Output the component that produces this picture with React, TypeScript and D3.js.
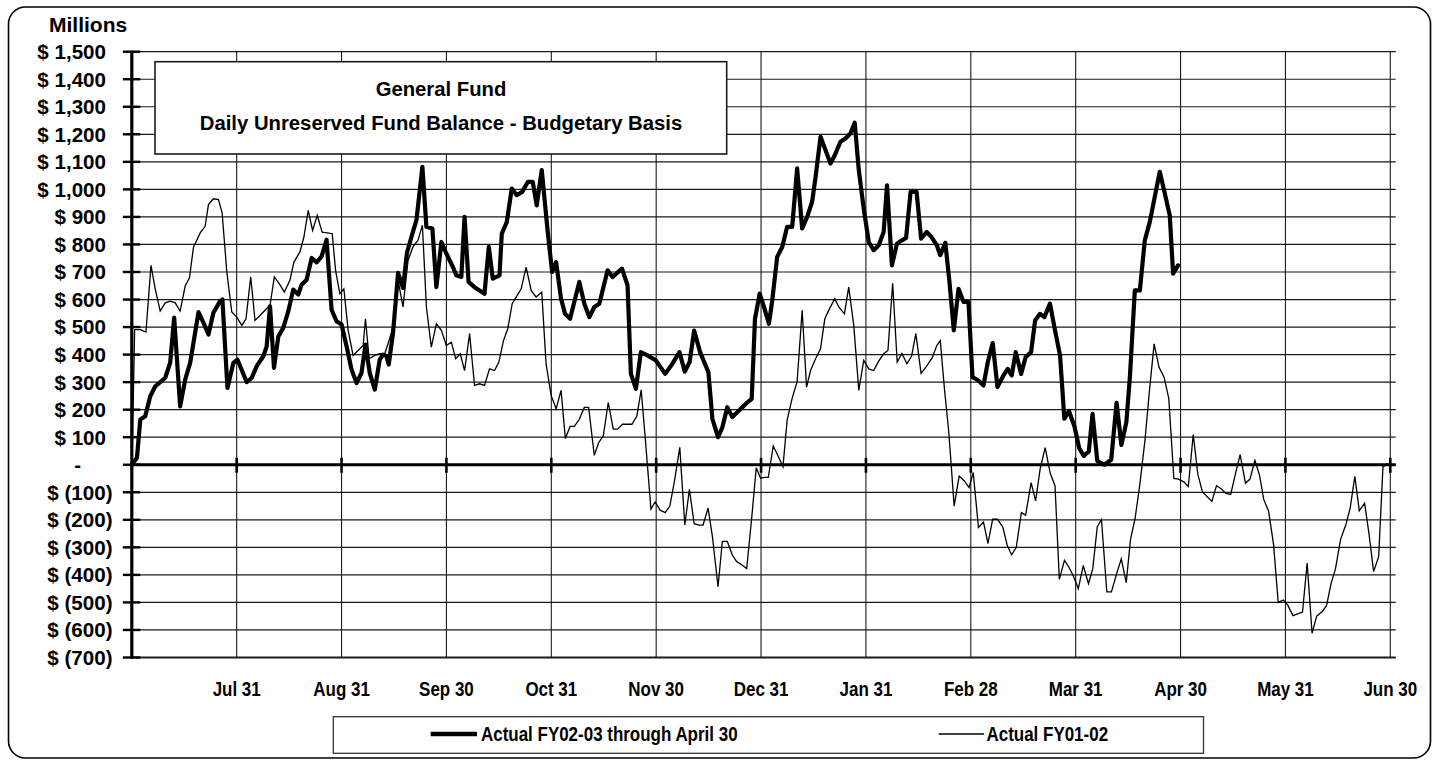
import React from 'react';
import * as d3 from 'd3';

const monthLabels = ['Jul 31', 'Aug 31', 'Sep 30', 'Oct 31', 'Nov 30', 'Dec 31', 'Jan 31', 'Feb 28', 'Mar 31', 'Apr 30', 'May 31', 'Jun 30'];
const yTickValues = [1500, 1400, 1300, 1200, 1100, 1000, 900, 800, 700, 600, 500, 400, 300, 200, 100, 0, -100, -200, -300, -400, -500, -600, -700];
const titleLines = ['General Fund', 'Daily Unreserved Fund Balance - Budgetary Basis'];
const legendLabels = ['Actual FY02-03 through April 30', 'Actual FY01-02'];

// [fiscal month position (0 = Jul 1, 1 = Jul 31, ... 12 = Jun 30), $ millions]
const fy0203: [number, number][] = [
  [0.00, 0], [0.049, 25], [0.081, 164], [0.128, 176], [0.176, 249], [0.224, 285], [0.271, 300], [0.319, 316], [0.366, 371], [0.404, 534],
  [0.461, 212], [0.509, 309], [0.557, 371], [0.636, 554], [0.683, 516], [0.731, 473], [0.778, 552], [0.842, 594], [0.864, 600], [0.912, 279],
  [0.969, 370], [1.007, 382], [1.096, 300], [1.144, 316], [1.191, 358], [1.254, 394], [1.286, 430], [1.318, 575], [1.356, 352], [1.397, 466],
  [1.444, 497], [1.492, 557], [1.539, 636], [1.587, 618], [1.619, 654], [1.667, 672], [1.715, 751], [1.762, 735], [1.810, 757], [1.857, 817],
  [1.905, 563], [1.952, 521], [2.000, 509], [2.048, 430], [2.095, 346], [2.143, 297], [2.190, 333], [2.228, 436], [2.269, 333], [2.317, 273],
  [2.364, 382], [2.396, 400], [2.428, 395], [2.450, 364], [2.491, 479], [2.539, 697], [2.586, 642], [2.624, 770], [2.666, 827], [2.714, 888],
  [2.771, 1082], [2.809, 864], [2.866, 858], [2.904, 645], [2.952, 809], [2.999, 767], [3.062, 718], [3.094, 688], [3.142, 682], [3.173, 900],
  [3.211, 664], [3.268, 645], [3.363, 621], [3.404, 791], [3.442, 676], [3.506, 688], [3.528, 839], [3.576, 882], [3.623, 1003], [3.671, 979],
  [3.722, 991], [3.776, 1027], [3.823, 1027], [3.861, 942], [3.909, 1070], [3.966, 845], [4.008, 700], [4.046, 736], [4.093, 603], [4.131, 548],
  [4.179, 530], [4.267, 664], [4.315, 585], [4.363, 536], [4.410, 573], [4.458, 585], [4.537, 706], [4.584, 682], [4.674, 712], [4.727, 652],
  [4.759, 330], [4.807, 276], [4.854, 409], [4.917, 397], [4.997, 379], [5.086, 330], [5.155, 367], [5.222, 409], [5.273, 338], [5.319, 373],
  [5.362, 487], [5.419, 409], [5.498, 336], [5.536, 167], [5.590, 100], [5.631, 136], [5.678, 209], [5.726, 173], [5.790, 197], [5.854, 221],
  [5.911, 239], [5.942, 530], [5.987, 621], [6.028, 573], [6.075, 512], [6.107, 597], [6.154, 755], [6.202, 791], [6.249, 864], [6.297, 864],
  [6.344, 1076], [6.392, 858], [6.440, 900], [6.487, 955], [6.520, 1045], [6.567, 1191], [6.615, 1142], [6.662, 1094], [6.703, 1124], [6.757, 1173],
  [6.805, 1185], [6.852, 1203], [6.893, 1242], [6.932, 1070], [6.979, 930], [7.027, 809], [7.074, 779], [7.122, 797], [7.169, 845], [7.201, 1015],
  [7.248, 724], [7.296, 803], [7.343, 815], [7.383, 824], [7.426, 991], [7.483, 991], [7.526, 821], [7.579, 845], [7.626, 827], [7.676, 797],
  [7.709, 761], [7.757, 806], [7.795, 670], [7.838, 488], [7.883, 639], [7.931, 591], [7.978, 591], [8.016, 318], [8.073, 306], [8.121, 288],
  [8.162, 373], [8.209, 442], [8.254, 282], [8.311, 324], [8.352, 348], [8.390, 324], [8.428, 409], [8.480, 330], [8.523, 391], [8.575, 409],
  [8.613, 524], [8.660, 548], [8.701, 536], [8.755, 585], [8.803, 488], [8.851, 397], [8.892, 167], [8.936, 195], [8.987, 141], [9.034, 60],
  [9.077, 32], [9.125, 48], [9.161, 185], [9.206, 14], [9.272, 0], [9.339, 18], [9.390, 225], [9.436, 72], [9.483, 154], [9.517, 318],
  [9.564, 633], [9.612, 633], [9.659, 815], [9.707, 882], [9.754, 973], [9.802, 1064], [9.850, 985], [9.897, 906], [9.929, 694], [9.976, 724],
];

const fy0102: [number, number][] = [
  [0.002, 0], [0.027, 491], [0.081, 491], [0.135, 482], [0.183, 724], [0.224, 637], [0.271, 558], [0.319, 588], [0.366, 594], [0.414, 588],
  [0.461, 558], [0.509, 649], [0.550, 679], [0.588, 790], [0.652, 842], [0.699, 866], [0.731, 945], [0.778, 966], [0.826, 963], [0.861, 916],
  [0.906, 700], [0.953, 555], [1.001, 536], [1.049, 506], [1.089, 530], [1.134, 682], [1.175, 524], [1.223, 542], [1.270, 561], [1.318, 579],
  [1.359, 682], [1.406, 658], [1.454, 627], [1.508, 670], [1.546, 736], [1.603, 773], [1.641, 827], [1.682, 924], [1.724, 851], [1.768, 906],
  [1.815, 845], [1.863, 842], [1.911, 839], [1.943, 706], [1.984, 621], [2.022, 639], [2.063, 488], [2.110, 397], [2.158, 415], [2.206, 433],
  [2.228, 530], [2.263, 385], [2.317, 397], [2.364, 403], [2.412, 403], [2.453, 451], [2.491, 500], [2.539, 670], [2.586, 573], [2.634, 742],
  [2.681, 791], [2.729, 815], [2.771, 870], [2.809, 573], [2.856, 427], [2.904, 512], [2.952, 488], [2.999, 433], [3.047, 445], [3.088, 385],
  [3.132, 403], [3.173, 342], [3.221, 476], [3.268, 288], [3.316, 294], [3.363, 288], [3.411, 348], [3.459, 342], [3.500, 373], [3.544, 451],
  [3.585, 494], [3.627, 585], [3.665, 609], [3.713, 639], [3.760, 718], [3.808, 633], [3.855, 609], [3.909, 627], [3.950, 367], [3.998, 252],
  [4.046, 203], [4.093, 270], [4.134, 95], [4.179, 139], [4.220, 139], [4.267, 165], [4.315, 208], [4.356, 208], [4.410, 34], [4.451, 80],
  [4.496, 105], [4.543, 226], [4.591, 129], [4.632, 129], [4.679, 147], [4.727, 147], [4.769, 147], [4.816, 177], [4.857, 272], [4.902, 68],
  [4.950, -161], [4.990, -135], [5.038, -165], [5.086, -174], [5.130, -150], [5.174, -60], [5.225, 63], [5.273, -219], [5.317, -89], [5.362, -214],
  [5.409, -219], [5.447, -219], [5.495, -157], [5.536, -260], [5.590, -443], [5.631, -278], [5.678, -278], [5.726, -328], [5.768, -352], [5.815, -363],
  [5.863, -377], [5.911, -193], [5.954, -11], [5.996, -49], [6.034, -46], [6.069, -46], [6.116, 68], [6.164, 31], [6.209, -7], [6.249, 163],
  [6.297, 242], [6.344, 302], [6.392, 561], [6.434, 282], [6.472, 342], [6.520, 385], [6.567, 421], [6.608, 530], [6.653, 567], [6.703, 603],
  [6.741, 573], [6.795, 548], [6.836, 645], [6.884, 506], [6.932, 270], [6.979, 379], [7.027, 348], [7.074, 342], [7.122, 376], [7.169, 403],
  [7.210, 415], [7.255, 659], [7.298, 373], [7.343, 404], [7.391, 367], [7.435, 394], [7.476, 476], [7.526, 332], [7.579, 358], [7.631, 388],
  [7.676, 433], [7.709, 451], [7.750, 270], [7.788, 127], [7.812, 5], [7.841, -150], [7.889, -41], [7.939, -59], [7.983, -83], [8.023, -28],
  [8.073, -228], [8.121, -208], [8.164, -286], [8.208, -198], [8.254, -198], [8.305, -226], [8.349, -295], [8.389, -327], [8.433, -301], [8.482, -174],
  [8.523, -183], [8.575, -65], [8.618, -131], [8.661, -16], [8.709, 62], [8.758, -32], [8.803, -76], [8.844, -416], [8.893, -347], [8.937, -373],
  [8.981, -407], [9.025, -450], [9.072, -366], [9.122, -432], [9.163, -377], [9.206, -225], [9.246, -199], [9.297, -462], [9.341, -462], [9.391, -395],
  [9.435, -342], [9.482, -428], [9.523, -271], [9.566, -196], [9.610, -77], [9.660, 86], [9.705, 275], [9.748, 439], [9.795, 354], [9.843, 318],
  [9.888, 240], [9.936, -50], [9.980, -52], [10.031, -62], [10.074, -79], [10.121, 110], [10.165, -35], [10.209, -99], [10.255, -116], [10.299, -133],
  [10.343, -76], [10.390, -88], [10.433, -104], [10.478, -108], [10.524, -32], [10.568, 37], [10.619, -67], [10.662, -52], [10.709, 16], [10.753, -38],
  [10.793, -126], [10.840, -169], [10.887, -290], [10.931, -500], [10.981, -491], [11.022, -510], [11.072, -548], [11.123, -541], [11.163, -535], [11.207, -357],
  [11.254, -612], [11.298, -550], [11.349, -534], [11.392, -512], [11.436, -430], [11.476, -380], [11.526, -271], [11.577, -217], [11.618, -156], [11.662, -42],
  [11.704, -167], [11.755, -140], [11.796, -248], [11.841, -388], [11.889, -334], [11.930, -8], [11.974, 5],
];

const FONT = '"Liberation Sans", Arial, Helvetica, sans-serif';

function fmtY(v: number): string {
  if (v === 0) return '-';
  const s = d3.format(',')(Math.abs(v));
  return v < 0 ? `$ (${s})` : `$ ${s}`;
}

export default function App() {
  const W = 1434;
  const H = 765;
  const x = d3.scaleLinear().domain([0, 12]).range([131.8, 1390.3]);
  const y = d3.scaleLinear().domain([-700, 1500]).range([657.5, 51.7]);
  const plotLeft = x(0);
  const plotRight = x(12.052);
  const yTop = y(1500);
  const yBot = y(-700);
  const y0 = y(0);

  const line = d3
    .line<[number, number]>()
    .x((d) => x(d[0]))
    .y((d) => y(d[1]));

  const months = d3.range(1, 13);

  return (
    <svg
      width={W}
      height={H}
      viewBox={`0 0 ${W} ${H}`}
      style={{ position: 'absolute', left: 0, top: 0, background: '#fff' }}
      fontFamily={FONT}
      fontWeight="bold"
    >
      <rect x={0} y={0} width={W} height={H} fill="#fff" />
      {/* outer rounded border */}
      <rect x={8.5} y={7} width={1422} height={751} rx={17} ry={17} fill="#fff" stroke="#000" strokeWidth={1.6} />

      {/* horizontal gridlines */}
      {yTickValues.map((v) => (
        <line key={`h${v}`} x1={plotLeft} x2={plotRight} y1={y(v)} y2={y(v)} stroke="#1a1a1a" strokeWidth={v === -700 ? 2 : 1.2} />
      ))}
      {/* vertical gridlines */}
      {months.map((m) => (
        <line key={`v${m}`} x1={x(m)} x2={x(m)} y1={yTop} y2={yBot} stroke="#1a1a1a" strokeWidth={1.1} />
      ))}

      {/* title box */}
      <rect x={155} y={61.7} width={571.7} height={92.3} fill="#fff" stroke="#1a1a1a" strokeWidth={1.6} />
      <text x={441} y={96} textAnchor="middle" fontSize={20.3} fill="#000">{titleLines[0]}</text>
      <text x={441} y={129.5} textAnchor="middle" fontSize={20.3} fill="#000">{titleLines[1]}</text>

      {/* zero line */}
      <line x1={plotLeft} x2={plotRight} y1={y0} y2={y0} stroke="#000" strokeWidth={3} />
      {/* x ticks on zero line */}
      {months.map((m) => (
        <line key={`xt${m}`} x1={x(m)} x2={x(m)} y1={y0 - 7} y2={y0 + 8} stroke="#000" strokeWidth={2.6} />
      ))}

      {/* y axis */}
      <line x1={plotLeft} x2={plotLeft} y1={yTop - 1} y2={yBot + 1} stroke="#000" strokeWidth={3.2} />
      {yTickValues.map((v) => (
        <line key={`yt${v}`} x1={plotLeft - 9} x2={plotLeft + 8.5} y1={y(v)} y2={y(v)} stroke="#000" strokeWidth={2.4} />
      ))}

      {/* series */}
      <path d={line(fy0203) || ''} fill="none" stroke="#000" strokeWidth={4.2} strokeLinejoin="round" strokeLinecap="round" />
      <path d={line(fy0102) || ''} fill="none" stroke="#000" strokeWidth={1.3} strokeLinejoin="miter" />

      {/* y labels */}
      {yTickValues.map((v) => (
        <text
          key={`yl${v}`}
          x={v === 0 ? 81 : v < 0 ? 112.5 : 106}
          y={y(v) + 7.4}
          textAnchor="end"
          fontSize={20.6}
          fill="#000"
        >
          {fmtY(v)}
        </text>
      ))}
      <text x={49} y={31.7} fontSize={21} fill="#000">Millions</text>

      {/* x labels */}
      {months.map((m, i) => (
        <text
          key={`xl${m}`}
          transform={`translate(${x(m)},${695.7}) scale(0.87,1)`}
          textAnchor="middle"
          fontSize={19.5}
          fill="#000"
        >
          {monthLabels[i]}
        </text>
      ))}

      {/* legend */}
      <rect x={333.3} y={716.7} width={870.2} height={36.6} fill="#fff" stroke="#333" strokeWidth={1.3} />
      <line x1={430.7} x2={477} y1={734} y2={734} stroke="#000" strokeWidth={4.5} />
      <text transform={`translate(481,741) scale(0.87,1)`} fontSize={19.5} fill="#000">{legendLabels[0]}</text>
      <line x1={938.8} x2={984} y1={734} y2={734} stroke="#000" strokeWidth={1.3} />
      <text transform={`translate(986.5,741) scale(0.87,1)`} fontSize={19.5} fill="#000">{legendLabels[1]}</text>
    </svg>
  );
}
